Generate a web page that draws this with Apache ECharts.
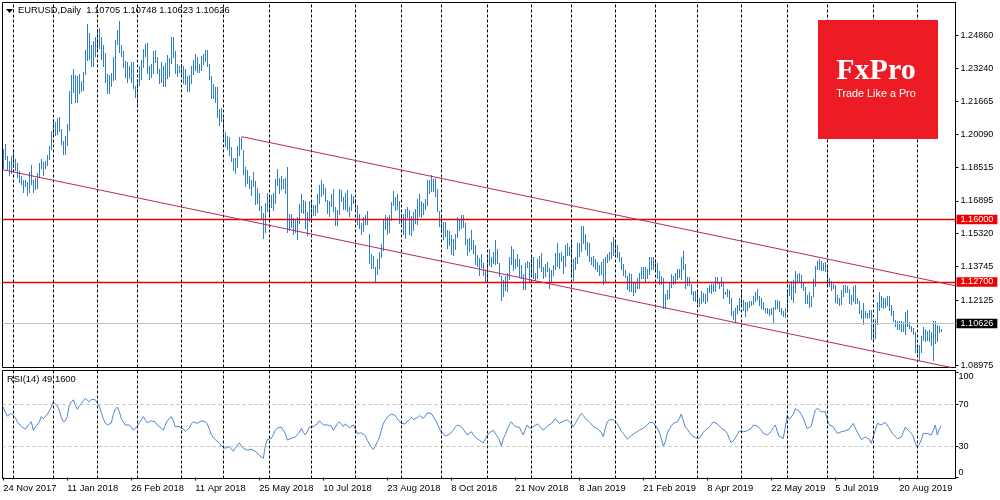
<!DOCTYPE html>
<html>
<head>
<meta charset="utf-8">
<script src="https://cdn.jsdelivr.net/npm/echarts@6/dist/echarts.min.js"></script>
<style>
  html, body { margin: 0; padding: 0; background: #fff; }
  #chart { width: 1000px; height: 500px; }
</style>
</head>
<body>
<div id="chart"></div>
<script>
// daily bars, 24 Nov 2017 .. 18 Sep 2019 (one row per month)
const highs = [
  1.1940, 1.1961, 1.1905, 1.1880, 1.1906,
  1.1940, 1.1890, 1.1870, 1.1835, 1.1810, 1.1790, 1.1790, 1.1782, 1.1830, 1.1862, 1.1790, 1.1800, 1.1825, 1.1872, 1.1890, 1.1875, 1.1880, 1.1910, 1.1955, 1.2023,
  1.2081, 1.2066, 1.2089, 1.2090, 1.2036, 1.1977, 1.2000, 1.2060, 1.2219, 1.2296, 1.2323, 1.2296, 1.2290, 1.2297, 1.2266, 1.2306, 1.2415, 1.2537, 1.2495, 1.2437, 1.2457, 1.2477,
  1.2516, 1.2522, 1.2476, 1.2437, 1.2400, 1.2298, 1.2292, 1.2302, 1.2380, 1.2460, 1.2510, 1.2555, 1.2436, 1.2410, 1.2362, 1.2355, 1.2336, 1.2355, 1.2354, 1.2240,
  1.2275, 1.2335, 1.2365, 1.2420, 1.2445, 1.2447, 1.2335, 1.2348, 1.2410, 1.2413, 1.2382, 1.2325, 1.2355, 1.2335, 1.2350, 1.2388, 1.2375, 1.2476, 1.2477, 1.2410, 1.2345, 1.2336,
  1.2345, 1.2338, 1.2322, 1.2290, 1.2294, 1.2337, 1.2368, 1.2396, 1.2378, 1.2345, 1.2384, 1.2395, 1.2414, 1.2413, 1.2348, 1.2290, 1.2253, 1.2237, 1.2235, 1.2130, 1.2135,
  1.2085, 1.2019, 1.2000, 1.1995, 1.1950, 1.1897, 1.1895, 1.1955, 1.1997, 1.1997, 1.1935, 1.1851, 1.1838, 1.1810, 1.1790, 1.1830, 1.1785, 1.1750, 1.1728, 1.1665, 1.1630, 1.1679, 1.1725,
  1.1717, 1.1718, 1.1727, 1.1796, 1.1840, 1.1800, 1.1810, 1.1795, 1.1800, 1.1852, 1.1626, 1.1625, 1.1609, 1.1601, 1.1614, 1.1675, 1.1720, 1.1695, 1.1690, 1.1635, 1.1690,
  1.1690, 1.1667, 1.1667, 1.1720, 1.1764, 1.1791, 1.1768, 1.1750, 1.1694, 1.1690, 1.1720, 1.1745, 1.1660, 1.1645, 1.1747, 1.1740, 1.1710, 1.1725, 1.1740, 1.1660, 1.1720, 1.1715,
  1.1700, 1.1667, 1.1625, 1.1584, 1.1612, 1.1620, 1.1640, 1.1530, 1.1434, 1.1423, 1.1370, 1.1410, 1.1445, 1.1480, 1.1600, 1.1623, 1.1610, 1.1623, 1.1685, 1.1735, 1.1710, 1.1720, 1.1690,
  1.1625, 1.1625, 1.1650, 1.1660, 1.1645, 1.1615, 1.1635, 1.1650, 1.1700, 1.1720, 1.1690, 1.1680, 1.1700, 1.1789, 1.1790, 1.1815, 1.1795, 1.1800, 1.1745, 1.1640,
  1.1622, 1.1590, 1.1590, 1.1548, 1.1545, 1.1525, 1.1505, 1.1530, 1.1610, 1.1595, 1.1620, 1.1620, 1.1585, 1.1505, 1.1510, 1.1550, 1.1500, 1.1475, 1.1430, 1.1415, 1.1435, 1.1390, 1.1355,
  1.1425, 1.1456, 1.1420, 1.1445, 1.1500, 1.1460, 1.1390, 1.1327, 1.1310, 1.1330, 1.1345, 1.1420, 1.1472, 1.1460, 1.1410, 1.1435, 1.1410, 1.1380, 1.1340, 1.1390, 1.1400, 1.1395,
  1.1420, 1.1420, 1.1345, 1.1410, 1.1425, 1.1440, 1.1370, 1.1385, 1.1395, 1.1365, 1.1355, 1.1380, 1.1440, 1.1485, 1.1440, 1.1445, 1.1425, 1.1475, 1.1485, 1.1470,
  1.1498, 1.1410, 1.1420, 1.1485, 1.1485, 1.1570, 1.1570, 1.1530, 1.1490, 1.1485, 1.1420, 1.1425, 1.1410, 1.1395, 1.1380, 1.1395, 1.1410, 1.1420, 1.1435, 1.1445, 1.1490, 1.1515,
  1.1490, 1.1475, 1.1445, 1.1420, 1.1385, 1.1355, 1.1330, 1.1345, 1.1340, 1.1300, 1.1300, 1.1320, 1.1345, 1.1370, 1.1370, 1.1370, 1.1360, 1.1420, 1.1420, 1.1420,
  1.1410, 1.1390, 1.1350, 1.1330, 1.1320, 1.1240, 1.1260, 1.1300, 1.1340, 1.1330, 1.1345, 1.1360, 1.1360, 1.1420, 1.1450, 1.1385, 1.1325, 1.1325, 1.1290, 1.1255, 1.1255,
  1.1255, 1.1225, 1.1255, 1.1245, 1.1240, 1.1270, 1.1285, 1.1290, 1.1290, 1.1325, 1.1325, 1.1300, 1.1325, 1.1300, 1.1250, 1.1265, 1.1260, 1.1225, 1.1160, 1.1175, 1.1190, 1.1225,
  1.1265, 1.1215, 1.1205, 1.1205, 1.1210, 1.1210, 1.1230, 1.1250, 1.1265, 1.1230, 1.1225, 1.1205, 1.1175, 1.1175, 1.1170, 1.1175, 1.1180, 1.1215, 1.1215, 1.1210, 1.1175, 1.1160, 1.1175,
  1.1265, 1.1290, 1.1305, 1.1310, 1.1350, 1.1340, 1.1345, 1.1335, 1.1295, 1.1275, 1.1235, 1.1250, 1.1230, 1.1315, 1.1375, 1.1400, 1.1410, 1.1400, 1.1390, 1.1395,
  1.1375, 1.1320, 1.1305, 1.1290, 1.1285, 1.1235, 1.1225, 1.1260, 1.1285, 1.1285, 1.1280, 1.1265, 1.1235, 1.1280, 1.1285, 1.1225, 1.1210, 1.1165, 1.1200, 1.1160, 1.1150, 1.1165, 1.1165,
  1.1100, 1.1120, 1.1205, 1.1250, 1.1230, 1.1225, 1.1225, 1.1230, 1.1230, 1.1190, 1.1160, 1.1115, 1.1110, 1.1110, 1.1110, 1.1105, 1.1155, 1.1165, 1.1105, 1.1090, 1.1080, 1.1060,
  1.0995, 1.0995, 1.1040, 1.1085, 1.1075, 1.1065, 1.1070, 1.1060, 1.1110, 1.1110, 1.1094, 1.1086, 1.10748
];
const lows = [
  1.1845, 1.1892, 1.1843, 1.1812, 1.1823,
  1.1850, 1.1836, 1.1802, 1.1780, 1.1768, 1.1730, 1.1760, 1.1718, 1.1730, 1.1770, 1.1730, 1.1745, 1.1750, 1.1805, 1.1845, 1.1812, 1.1847, 1.1862, 1.1890, 1.1937,
  1.2000, 1.2005, 1.2012, 1.2026, 1.1962, 1.1915, 1.1916, 1.1956, 1.2030, 1.2160, 1.2212, 1.2164, 1.2166, 1.2205, 1.2219, 1.2222, 1.2297, 1.2367, 1.2370, 1.2335, 1.2336, 1.2387,
  1.2412, 1.2424, 1.2372, 1.2336, 1.2262, 1.2206, 1.2206, 1.2240, 1.2269, 1.2273, 1.2442, 1.2405, 1.2385, 1.2334, 1.2285, 1.2260, 1.2280, 1.2260, 1.2230, 1.2186,
  1.2155, 1.2245, 1.2275, 1.2330, 1.2386, 1.2305, 1.2273, 1.2286, 1.2305, 1.2358, 1.2304, 1.2257, 1.2260, 1.2240, 1.2240, 1.2280, 1.2289, 1.2353, 1.2380, 1.2305, 1.2290, 1.2310,
  1.2288, 1.2255, 1.2250, 1.2215, 1.2218, 1.2255, 1.2300, 1.2320, 1.2306, 1.2306, 1.2318, 1.2345, 1.2360, 1.2336, 1.2275, 1.2183, 1.2185, 1.2164, 1.2093, 1.2054, 1.2074,
  1.1984, 1.1955, 1.1938, 1.1910, 1.1883, 1.1838, 1.1822, 1.1850, 1.1908, 1.1936, 1.1820, 1.1763, 1.1777, 1.1750, 1.1717, 1.1760, 1.1675, 1.1678, 1.1645, 1.1600, 1.1510, 1.1538, 1.1640,
  1.1618, 1.1660, 1.1645, 1.1680, 1.1765, 1.1728, 1.1745, 1.1750, 1.1727, 1.1541, 1.1547, 1.1565, 1.1530, 1.1540, 1.1508, 1.1585, 1.1635, 1.1630, 1.1560, 1.1526, 1.1594,
  1.1590, 1.1620, 1.1622, 1.1635, 1.1680, 1.1715, 1.1720, 1.1690, 1.1630, 1.1615, 1.1665, 1.1640, 1.1575, 1.1575, 1.1625, 1.1690, 1.1650, 1.1652, 1.1640, 1.1618, 1.1643, 1.1680,
  1.1650, 1.1580, 1.1560, 1.1530, 1.1543, 1.1576, 1.1580, 1.1390, 1.1365, 1.1366, 1.1301, 1.1340, 1.1365, 1.1420, 1.1455, 1.1555, 1.1528, 1.1540, 1.1596, 1.1670, 1.1645, 1.1650, 1.1585,
  1.1585, 1.1530, 1.1510, 1.1610, 1.1530, 1.1526, 1.1550, 1.1585, 1.1580, 1.1615, 1.1610, 1.1628, 1.1650, 1.1670, 1.1725, 1.1735, 1.1735, 1.1712, 1.1640, 1.1570,
  1.1540, 1.1506, 1.1520, 1.1463, 1.1475, 1.1432, 1.1430, 1.1460, 1.1515, 1.1548, 1.1560, 1.1565, 1.1480, 1.1430, 1.1450, 1.1460, 1.1440, 1.1385, 1.1375, 1.1335, 1.1370, 1.1335, 1.1302,
  1.1310, 1.1380, 1.1375, 1.1390, 1.1385, 1.1390, 1.1330, 1.1215, 1.1230, 1.1260, 1.1255, 1.1315, 1.1385, 1.1358, 1.1365, 1.1375, 1.1325, 1.1320, 1.1268, 1.1265, 1.1370, 1.1305,
  1.1340, 1.1320, 1.1310, 1.1320, 1.1370, 1.1350, 1.1320, 1.1330, 1.1350, 1.1270, 1.1300, 1.1335, 1.1360, 1.1375, 1.1365, 1.1400, 1.1345, 1.1375, 1.1430, 1.1430,
  1.1325, 1.1310, 1.1360, 1.1390, 1.1425, 1.1450, 1.1485, 1.1460, 1.1430, 1.1400, 1.1385, 1.1375, 1.1360, 1.1350, 1.1335, 1.1340, 1.1290, 1.1300, 1.1395, 1.1405, 1.1415, 1.1430,
  1.1440, 1.1420, 1.1400, 1.1360, 1.1335, 1.1325, 1.1265, 1.1255, 1.1255, 1.1235, 1.1250, 1.1270, 1.1270, 1.1320, 1.1320, 1.1300, 1.1320, 1.1340, 1.1360, 1.1360,
  1.1355, 1.1320, 1.1290, 1.1290, 1.1175, 1.1175, 1.1220, 1.1225, 1.1275, 1.1290, 1.1295, 1.1315, 1.1325, 1.1315, 1.1360, 1.1270, 1.1285, 1.1285, 1.1240, 1.1215, 1.1210,
  1.1200, 1.1185, 1.1200, 1.1210, 1.1200, 1.1210, 1.1250, 1.1245, 1.1255, 1.1255, 1.1295, 1.1270, 1.1280, 1.1225, 1.1240, 1.1230, 1.1200, 1.1140, 1.1120, 1.1110, 1.1150, 1.1165,
  1.1190, 1.1165, 1.1135, 1.1165, 1.1180, 1.1190, 1.1195, 1.1210, 1.1220, 1.1190, 1.1175, 1.1170, 1.1155, 1.1150, 1.1140, 1.1145, 1.1105, 1.1170, 1.1175, 1.1160, 1.1145, 1.1135, 1.1130,
  1.1165, 1.1235, 1.1220, 1.1205, 1.1250, 1.1305, 1.1300, 1.1275, 1.1260, 1.1200, 1.1200, 1.1180, 1.1185, 1.1230, 1.1280, 1.1360, 1.1360, 1.1355, 1.1355, 1.1350,
  1.1285, 1.1280, 1.1260, 1.1270, 1.1205, 1.1200, 1.1190, 1.1195, 1.1230, 1.1250, 1.1250, 1.1200, 1.1195, 1.1210, 1.1200, 1.1200, 1.1150, 1.1125, 1.1100, 1.1130, 1.1125, 1.1130, 1.1025,
  1.1025, 1.1030, 1.1100, 1.1165, 1.1180, 1.1175, 1.1180, 1.1190, 1.1165, 1.1140, 1.1110, 1.1090, 1.1075, 1.1075, 1.1065, 1.1065, 1.1050, 1.1090, 1.1080, 1.1065, 1.1050, 1.0965,
  1.0960, 1.0926, 1.0965, 1.1020, 1.1015, 1.1020, 1.1015, 1.0995, 1.0927, 1.1006, 1.1015, 1.1060, 1.10623
];

// RSI(14), one value per bar
const rsi = [
  67, 62, 58.5, 59.5, 61, 61.4, 57, 53, 51, 48.5,
  47, 46, 45, 51, 53, 45, 48, 50, 53, 58,
  56, 56, 60, 63.5, 67, 72, 70, 68, 64, 57,
  53, 54, 58, 69, 72, 74, 69, 65, 68, 70.5,
  73, 75.4, 76, 72, 74.5, 75, 74, 75, 68, 62,
  56, 52, 50, 50, 52, 60, 65, 67, 63, 56,
  53, 50, 51, 50, 48, 45, 43.6, 49, 52, 55,
  58, 55, 52, 53, 54, 55, 53, 50, 49, 47,
  45, 50, 54, 56, 58, 54, 48.4, 49, 48.5, 48.4,
  46, 44, 44, 47, 51, 53, 52, 51.6, 53, 54,
  55, 53, 51, 46, 41, 38, 36, 34.5, 33, 30,
  28.5, 27.8, 28.5, 29.4, 27, 25, 25, 31, 33, 30,
  27.8, 27, 26, 26, 27, 26, 25, 23.5, 21, 19.5,
  18.3, 30, 36, 36, 37.3, 41, 45, 47, 47.5, 48,
  48.4, 42, 35.7, 36.5, 37.3, 38, 38.5, 40, 43, 46.8,
  43, 40.5, 44, 48, 48.4, 48.4, 48.7, 51, 54, 53,
  50, 48.4, 50, 51, 49, 45, 48, 51, 53, 51,
  48.4, 51, 52, 47.5, 48.5, 50, 46, 42, 41, 42.5,
  43.6, 40, 35.5, 32, 29, 26.8, 30, 34, 38, 45,
  51.6, 54.5, 57.5, 59, 60.5, 61.7, 59, 56, 53.5, 51.5,
  50, 51, 52.5, 55, 57.5, 55, 53.5, 57, 59, 57.5,
  56.4, 58.5, 61.5, 62.5, 61, 59.5, 55, 51, 47, 43.6,
  41.5, 39.5, 39.5, 41, 42, 45, 48, 50, 49, 48.4,
  46, 43, 40.5, 42, 43.6, 41, 38.5, 37, 35.5, 34,
  33, 32.5, 40, 42.5, 44, 45, 42, 39, 36, 30,
  37, 41, 46, 50, 53, 50.5, 48.4, 49.5, 48, 44,
  40.5, 46, 50, 47, 46, 48.4, 49.5, 51, 51, 47.5,
  45, 47, 49, 50.5, 51.5, 53, 56, 57, 51.5, 51,
  53.5, 55, 55, 55, 51, 48.4, 51.5, 55, 58, 61,
  59, 56.5, 55, 53, 51, 48.4, 47.5, 46.5, 45.5, 43,
  38.9, 47, 53, 55, 56.4, 55, 53, 51, 48, 44,
  42, 39, 36.5, 36, 40, 41, 42.5, 44, 45, 46.5,
  47, 48, 50, 52.5, 53, 52, 51.5, 47, 43, 37,
  30, 34, 42, 46, 49, 51.6, 52, 53, 56, 60.5,
  54, 48, 46, 43, 40.5, 39, 38, 37.3, 37.3, 40,
  43, 45, 46.5, 48, 50.5, 53, 52, 51, 49, 47,
  46, 44.5, 42, 37, 33, 35, 37.5, 41, 44.5, 44.5,
  43.5, 43.6, 44.5, 45, 47, 50, 51.6, 49, 47, 45,
  42, 40.5, 40.5, 40.5, 44, 47.5, 50, 44, 39, 38,
  37.3, 48, 59.5, 55.5, 54, 60, 65.5, 65.5, 63, 60,
  56.4, 51, 46.5, 45, 49, 57, 64, 66, 64.5, 62.7,
  62.7, 62.7, 55, 50, 49, 48.4, 45, 42, 41, 43.5,
  45, 44.5, 44, 46, 49, 51.6, 47, 43, 40, 36,
  37, 38.5, 38, 36.5, 32.5, 31, 45, 51.6, 51, 50,
  51, 52.5, 52, 47, 43.5, 41, 39, 37, 36, 38.5,
  43, 48, 47, 44, 42, 39, 33, 29.4, 31.5, 36,
  42, 42, 42, 41, 40.5, 45, 50, 40.5, 46, 49.16
];

// first bar of each month (vertical separators)
const monthStarts = [5, 25, 47, 67, 89, 110, 133, 154, 176, 199, 219, 242, 264, 284, 306, 326, 347, 369, 392, 412, 435, 457];

// time scale labels
const labelIdx = [0, 32, 64, 96, 128, 160, 192, 224, 256, 288, 320, 352, 384, 416, 448];
const dateLabels = ['24 Nov 2017', '11 Jan 2018', '26 Feb 2018', '11 Apr 2018', '25 May 2018', '10 Jul 2018',
  '23 Aug 2018', '8 Oct 2018', '21 Nov 2018', '8 Jan 2019', '21 Feb 2019', '8 Apr 2019', '22 May 2019',
  '5 Jul 2019', '20 Aug 2019'];

// price scale labels
const priceTicks = [1.24860, 1.23240, 1.21665, 1.20090, 1.18515, 1.16895, 1.15320, 1.13745, 1.12125, 1.08975];
const rsiTicks = [0, 30, 70, 100];

// levels and channel
const levels = [1.16000, 1.12700];
const lastPrice = 1.10626;
const channelUpper = [[119.2, 1.19975], [476.1, 1.12813]];
const channelLower = [[-0.4, 1.18390], [473.9, 1.08888]];

const FONT = '"Liberation Sans", Arial, sans-serif';
const X_MIN = -0.4, X_MAX = 476.1;
const BAR_COLOR = '#2f7fcf';
const LEVEL_RED = '#ee0000';

let chart = echarts.init(document.getElementById('chart'));

let bars = highs.map(function (h, i) { return [i, h, lows[i]]; });

function boxLabel(text, bg) {
    return {
        show: true, position: 'end', distance: 1, formatter: text,
        backgroundColor: bg, color: '#fff', fontSize: 9.1, fontFamily: FONT,
        padding: [0, 4], lineHeight: 9.5
    };
}

let option = {
    animation: false,
    backgroundColor: '#fff',
    title: [{
        text: 'EURUSD,Daily  1.10705 1.10748 1.10623 1.10626',
        left: 18, top: 6, padding: 0,
        textStyle: { fontSize: 9.4, fontWeight: 'normal', color: '#000', fontFamily: FONT }
    }, {
        text: 'RSI(14) 49.1600',
        left: 7, top: 375, padding: 0,
        textStyle: { fontSize: 9.4, fontWeight: 'normal', color: '#000', fontFamily: FONT }
    }],
    graphic: [
        { type: 'polygon', shape: { points: [[6, 9], [13, 9], [9.5, 13]] }, style: { fill: '#000' } },
        { type: 'rect', z: 100, shape: { x: 818, y: 20, width: 120, height: 119 }, style: { fill: '#ed1c24' } },
        { type: 'text', z: 101, x: 876, y: 71,
          style: { text: 'FxPro', fill: '#fff', font: 'bold 30px "Liberation Serif", serif', align: 'center', verticalAlign: 'middle' } },
        { type: 'text', z: 101, x: 876, y: 94,
          style: { text: 'Trade Like a Pro', fill: '#fff', font: '10.8px "Liberation Sans", Arial', align: 'center', verticalAlign: 'middle' } }
    ],
    grid: [
        { left: 2.5, right: 44.5, top: 2.5, height: 365, show: true, borderColor: '#000', borderWidth: 1, backgroundColor: '#fff' },
        { left: 2.5, right: 44.5, top: 370.5, height: 108, show: true, borderColor: '#000', borderWidth: 1, backgroundColor: '#fff' }
    ],
    xAxis: [{
        type: 'value', gridIndex: 0, min: X_MIN, max: X_MAX,
        axisLine: { show: false }, axisTick: { show: false }, axisLabel: { show: false }, splitLine: { show: false }
    }, {
        type: 'value', gridIndex: 1, min: X_MIN, max: X_MAX,
        axisLine: { show: false },
        axisTick: { show: true, customValues: labelIdx, length: 3, lineStyle: { color: '#000' } },
        axisLabel: {
            customValues: labelIdx,
            formatter: function (v) { return dateLabels[labelIdx.indexOf(v)]; },
            align: 'left', color: '#000', fontSize: 9.4, fontFamily: FONT, margin: 5
        },
        splitLine: { show: false }
    }],
    yAxis: [{
        type: 'value', gridIndex: 0, position: 'right', min: 1.08888, max: 1.26421,
        axisLine: { show: true, onZero: false, lineStyle: { color: '#000' } },
        axisTick: { show: true, customValues: priceTicks, length: 3, lineStyle: { color: '#000' } },
        axisLabel: {
            customValues: priceTicks,
            formatter: function (v) { return v.toFixed(5); },
            color: '#000', fontSize: 9.1, fontFamily: FONT, margin: 5
        },
        splitLine: { show: false }
    }, {
        type: 'value', gridIndex: 1, position: 'right', min: -0.95, max: 101.9,
        axisLine: { show: true, onZero: false, lineStyle: { color: '#000' } },
        axisTick: { show: true, customValues: rsiTicks, length: 3, lineStyle: { color: '#000' } },
        axisLabel: {
            customValues: rsiTicks,
            formatter: function (v) {
                if (v === 100) return '{top|100}';
                if (v === 0) return '{bot|0}';
                return String(v);
            },
            rich: {
                top: { padding: [7, 0, 0, 0], fontSize: 9.1, fontFamily: FONT, color: '#000' },
                bot: { padding: [0, 0, 11, 0], fontSize: 9.1, fontFamily: FONT, color: '#000' }
            },
            color: '#000', fontSize: 9.1, fontFamily: FONT, margin: 3
        },
        splitLine: { show: false }
    }],
    series: [
        // month separators, main window
        {
            type: 'line', xAxisIndex: 0, yAxisIndex: 0, data: [], z: 1,
            markLine: {
                silent: true, symbol: ['none', 'none'], label: { show: false },
                lineStyle: { color: '#000', type: [3, 2], width: 1 },
                data: monthStarts.map(function (v) { return { xAxis: v }; })
            }
        },
        // high-low bars
        {
            type: 'custom', xAxisIndex: 0, yAxisIndex: 0, z: 3,
            itemStyle: { color: BAR_COLOR },
            data: bars,
            encode: { x: 0, y: [1, 2] },
            renderItem: function (params, api) {
                let top = api.coord([api.value(0), api.value(1)]);
                let bot = api.coord([api.value(0), api.value(2)]);
                let x = Math.round(top[0]);
                let y = Math.round(top[1]);
                return {
                    type: 'rect',
                    shape: { x: x, y: y, width: 1, height: Math.max(1, Math.round(bot[1]) - y + 1) },
                    style: { fill: BAR_COLOR, stroke: null }
                };
            }
        },
        // support / resistance levels
        {
            type: 'line', xAxisIndex: 0, yAxisIndex: 0, data: [], z: 4,
            markLine: {
                silent: true, symbol: ['none', 'none'],
                lineStyle: { color: LEVEL_RED, type: 'solid', width: 1.4 },
                data: [
                    { yAxis: levels[0], label: boxLabel(levels[0].toFixed(5), LEVEL_RED) },
                    { yAxis: levels[1], label: boxLabel(levels[1].toFixed(5), LEVEL_RED) }
                ]
            }
        },
        // last price
        {
            type: 'line', xAxisIndex: 0, yAxisIndex: 0, data: [], z: 4,
            markLine: {
                silent: true, symbol: ['none', 'none'],
                lineStyle: { color: '#c0c0c0', type: 'solid', width: 1 },
                data: [{ yAxis: lastPrice, label: boxLabel(lastPrice.toFixed(5), '#000') }]
            }
        },
        // channel
        {
            type: 'line', xAxisIndex: 0, yAxisIndex: 0, data: [], z: 4,
            markLine: {
                silent: true, symbol: ['none', 'none'], label: { show: false },
                lineStyle: { color: '#b8285c', type: 'solid', width: 1 },
                data: [
                    [{ coord: channelUpper[0] }, { coord: channelUpper[1] }],
                    [{ coord: channelLower[0] }, { coord: channelLower[1] }]
                ]
            }
        },
        // RSI window
        {
            type: 'line', xAxisIndex: 1, yAxisIndex: 1, z: 3,
            data: rsi.map(function (v, i) { return [i, v]; }),
            showSymbol: false,
            lineStyle: { color: '#4f86cf', width: 1 },
            markLine: {
                silent: true, symbol: ['none', 'none'], label: { show: false },
                lineStyle: { color: '#c0c0c0', type: [3, 3], width: 1 },
                data: [{ yAxis: 70 }, { yAxis: 30 }]
            }
        },
        // month separators, RSI window
        {
            type: 'line', xAxisIndex: 1, yAxisIndex: 1, data: [], z: 2,
            markLine: {
                silent: true, symbol: ['none', 'none'], label: { show: false },
                lineStyle: { color: '#000', type: [3, 2], width: 1 },
                data: monthStarts.map(function (v) { return { xAxis: v }; })
            }
        }
    ]
};

chart.setOption(option);

window.addEventListener('resize', function () {
    chart.resize();
});
</script>
</body>
</html>
